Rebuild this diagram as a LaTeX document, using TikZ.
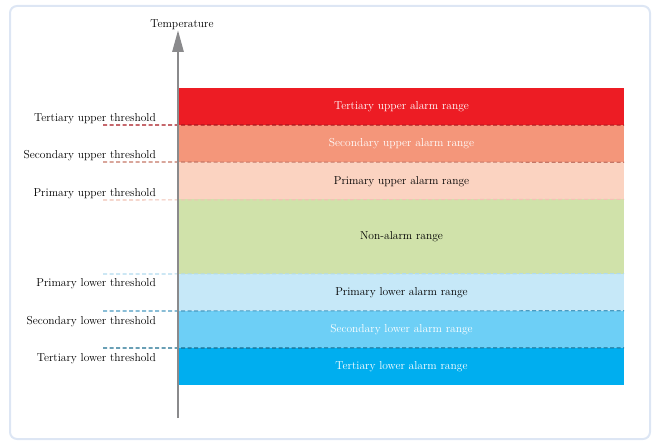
\documentclass[tikz,border=0pt]{standalone}
\usepackage{tikz}
\usetikzlibrary{positioning, arrows.meta}
\usepackage{xcolor}
\definecolor{framecol}{HTML}{DDE6F4}
\definecolor{axisgray}{HTML}{8A8A8C}
\definecolor{tuband}{HTML}{ED1C24}
\definecolor{suband}{HTML}{F4967A}
\definecolor{puband}{HTML}{FBD3C1}
\definecolor{naband}{HTML}{D0E2AA}
\definecolor{plband}{HTML}{C6E8F8}
\definecolor{slband}{HTML}{6DCFF6}
\definecolor{tlband}{HTML}{00AEEF}
\definecolor{tuline}{HTML}{A8161D}
\definecolor{suline}{HTML}{C47666}
\definecolor{puline}{HTML}{F0C2B4}
\definecolor{plline}{HTML}{B0DAEE}
\definecolor{slline}{HTML}{4A9AC0}
\definecolor{tlline}{HTML}{186C8E}

\begin{document}
\begin{tikzpicture}[
  x=1pt, y=-1pt,
  band/.style={minimum width=445pt, minimum height=37.125pt, inner sep=0pt,
               outer sep=0pt, text depth=1.5pt,
               font=\fontsize{11.5}{13}\selectfont},
  thlabel/.style={anchor=base east, inner sep=0pt,
                  font=\fontsize{11.5}{13}\selectfont},
  thline/.style={dash pattern=on 4pt off 2.5pt, line width=1.1pt},
  axis/.style={-{Triangle[length=22pt, width=11pt]}, line width=2.8pt,
               draw=axisgray},
]
  \useasboundingbox (0,0) rectangle (654,441);
  % Frame
  \draw[draw=framecol, line width=2pt, rounded corners=7pt]
    (10,6) rectangle (650,439);
  % Upper alarm bands
  \node[band, fill=tuband, text=white, anchor=north west] (tu) at (179,88)
    {Tertiary upper alarm range};
  \node[band, fill=suband, text=white, below=0pt of tu] (su)
    {Secondary upper alarm range};
  \node[band, fill=puband, below=0pt of su] (pu)
    {Primary upper alarm range};
  % Non-alarm band
  \node[band, fill=naband, minimum height=74.25pt, below=0pt of pu] (na)
    {Non-alarm range};
  % Lower alarm bands
  \node[band, fill=plband, below=0pt of na] (pl)
    {Primary lower alarm range};
  \node[band, fill=slband, text=white, below=0pt of pl] (sl)
    {Secondary lower alarm range};
  \node[band, fill=tlband, text=white, below=0pt of sl] (tl)
    {Tertiary lower alarm range};
  % Threshold lines
  \coordinate (tuL) at (103,125);
  \coordinate (suL) at (103,162);
  \coordinate (puL) at (103,200);
  \coordinate (plL) at (103,274);
  \coordinate (slL) at (103,311);
  \coordinate (tlL) at (103,348);
  \draw[thline, draw=tuline] (tuL) -- (tu.south east);
  \draw[thline, draw=suline] (suL) -- (su.south east);
  \draw[thline, draw=puline] (puL) -- (pu.south east);
  \draw[thline, draw=plline] (plL) -- (pl.north east);
  \draw[thline, draw=slline] (slL) -- (sl.north east);
  \draw[thline, draw=tlline] (tlL) -- (tl.north east);
  % Threshold labels
  \node[thlabel] (tut) at (156,122) {Tertiary upper threshold};
  \node[thlabel] (sut) at (156,159) {Secondary upper threshold};
  \node[thlabel] (put) at (156,197) {Primary upper threshold};
  \node[thlabel] (plt) at (156,287) {Primary lower threshold};
  \node[thlabel] (slt) at (156,324) {Secondary lower threshold};
  \node[thlabel] (tlt) at (156,361) {Tertiary lower threshold};
  % Temperature axis
  \coordinate (ybase) at (178,418);
  \coordinate (ytop) at (178,30);
  \draw[axis] (ybase) -- (ytop);
  \node[above=-3pt of ytop, xshift=4pt, font=\fontsize{11.5}{13}\selectfont]
    (temp) {Temperature};
\end{tikzpicture}
\end{document}
